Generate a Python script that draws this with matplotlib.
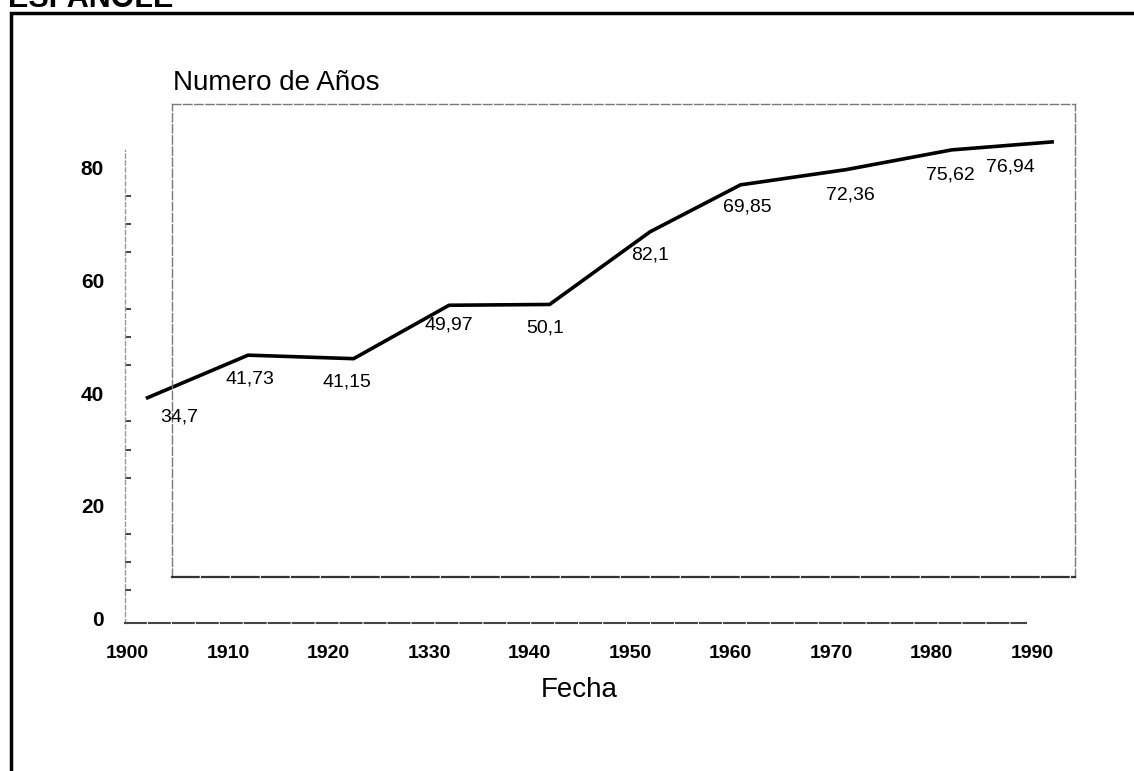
import matplotlib
matplotlib.use("Agg")
import matplotlib.pyplot as plt
from matplotlib.patches import Rectangle

plt.rcParams['font.family'] = ['Liberation Sans', 'DejaVu Sans']

# data
anios = [1902, 1912, 1922.5, 1932, 1942, 1952, 1961, 1971.5, 1982, 1992]
esperanza = [34.7, 41.73, 41.15, 49.97, 50.1, 62.1, 69.85, 72.36, 75.62, 76.94]
etiquetas = ["34,7", "41,73", "41,15", "49,97", "50,1", "82,1", "69,85", "72,36", "75,62", "76,94"]
x_ticks = [1900, 1910, 1920, 1930, 1940, 1950, 1960, 1970, 1980, 1990]
x_tick_labels = ["1900", "1910", "1920", "1330", "1940", "1950", "1960", "1970", "1980", "1990"]
y_ticks = [0, 20, 40, 60, 80]

# label offsets in pixels (dx, dy)
off_x = [32, 2, -7, 0, -4, 0, 7, 4, -1, -42]
off_y = [-19, -24, -23, -20, -24, -23, -22, -25, -25, -25]

W, H = 1134, 771


def rect(l, t, r, b):
    return [l / W, 1 - b / H, (r - l) / W, (b - t) / H]


fig = plt.figure(figsize=(W / 100, H / 100), dpi=100)
fig.patch.set_facecolor('white')

# outer axis with the printed scale
ax = fig.add_axes(rect(115, 150, 1040, 623))
ax.set_facecolor('none')
ax.set_xlim(1898.76, 1990.80)
ax.set_ylim(-0.78, 83.16)
for s in ['top', 'right']:
    ax.spines[s].set_visible(False)
ax.spines['left'].set_position(('data', 1899.75))
ax.spines['left'].set_color('#999999')
ax.spines['left'].set_linewidth(1.0)
ax.spines['left'].set_linestyle((0, (3, 2)))
ax.spines['bottom'].set_bounds(1899.75, 1989.45)
ax.spines['bottom'].set_color('#444444')
ax.spines['bottom'].set_linewidth(1.5)
ax.spines['bottom'].set_linestyle((0, (10, 1.5)))
ax.set_xticks(x_ticks)
ax.set_xticklabels(x_tick_labels)
ax.set_yticks(y_ticks)
ax.set_yticks(range(5, 80, 5), minor=True)
ax.tick_params(axis='x', length=0, pad=16, labelsize=14)
ax.tick_params(axis='y', which='major', length=0, pad=15, labelsize=15)
ax.tick_params(axis='y', which='minor', direction='in', length=4, width=1.2, color='#222222')
for t in ax.get_xticklabels() + ax.get_yticklabels():
    t.set_fontweight('bold')

# inner plot area where the line is drawn
ax2 = fig.add_axes(rect(172, 104, 1075, 577))
ax2.set_facecolor('none')
ax2.set_xlim(1904.43, 1994.28)
ax2.set_ylim(5.1, 83.2)
ax2.set_xticks([])
ax2.set_yticks([])
for s in ['top', 'left', 'right']:
    ax2.spines[s].set_color('#777777')
    ax2.spines[s].set_linewidth(1.0)
    ax2.spines[s].set_linestyle((0, (6, 2)))
ax2.spines['bottom'].set_color('#333333')
ax2.spines['bottom'].set_linewidth(1.6)
ax2.spines['bottom'].set_linestyle((0, (12, 1.5)))

ax2.plot(anios, esperanza, color='black', lw=2.6, clip_on=False)
for i in range(len(anios)):
    ax2.annotate(etiquetas[i], (anios[i], esperanza[i]),
                 xytext=(off_x[i], off_y[i]), textcoords='offset pixels',
                 ha='center', va='center', fontsize=14, annotation_clip=False)

# texts
fig.text(173 / W, 1 - 83 / H, 'Numero de Años', ha='left', va='center', fontsize=20)
fig.text(579 / W, 1 - 690 / H, 'Fecha', ha='center', va='center', fontsize=20)
fig.text(8 / W, 1 - 7 / H, 'ESPAÑOLE', ha='left', va='baseline', fontsize=22, fontweight='bold')

# page frame
fig.patches.append(Rectangle((11 / W, -0.1), 1.2, 1.1 - 13 / H, transform=fig.transFigure,
                             fill=False, lw=2.5, color='black'))

fig.savefig('out.png', dpi=100)
